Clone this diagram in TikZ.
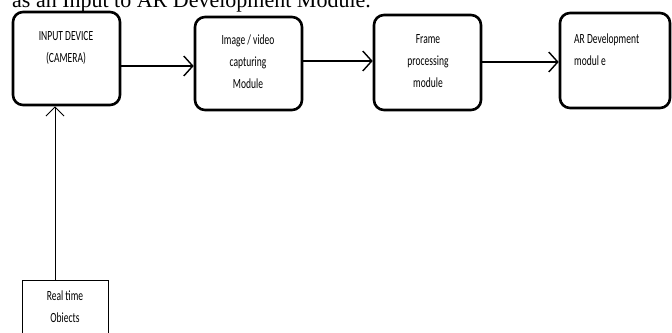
\documentclass[tikz,border=0pt]{standalone}
\usepackage{fontspec}
\setmainfont{Liberation Serif}
\newfontfamily\boxfont{Carlito}
\usetikzlibrary{arrows.meta}
\newcommand{\sq}[1]{\scalebox{0.68}[1]{#1}}
\tikzset{
  blk/.style={draw, line width=2.6pt, rounded corners=10pt, inner sep=0pt},
  lbl/.style={font=\boxfont\fontsize{14}{22}\selectfont, align=center, inner sep=0pt, anchor=north},
  flow/.style={line width=1.6pt, -{Straight Barb[length=9pt,width=20pt,line width=1.4pt]}},
  thinflow/.style={line width=0.9pt, -{Straight Barb[length=9pt,width=18pt,line width=1pt]}},
  plain/.style={draw, line width=0.9pt, inner sep=0pt}
}
\begin{document}
\begin{tikzpicture}[x=1pt,y=-1pt]
\useasboundingbox (0,0) rectangle (672,332);
\clip (0,0) rectangle (672,332);
\fill[white] (0,0) rectangle (672,332);
% cut-off caption line
\node[anchor=base west, inner sep=0pt, font=\fontsize{22}{26}\selectfont] (cap) at (12,7) {as an Input to AR Development Module.};
% boxes
\node[blk, minimum width=107pt, minimum height=93pt] (b1) at (66.5,58.5) {};
\node[blk, minimum width=107pt, minimum height=93pt] (b2) at (248.5,63.5) {};
\node[blk, minimum width=107pt, minimum height=95pt] (b3) at (427.5,62.5) {};
\node[blk, minimum width=110pt, minimum height=95pt] (b4) at (615,60.5) {};
\node[plain, minimum width=86pt, minimum height=70pt, anchor=north] (b5) at (65,280) {};
% texts
\node[lbl] (t1) at (66,31) {\sq{INPUT DEVICE}\\\sq{(CAMERA)}};
\node[lbl] (t2) at (248,35) {\sq{Image / video}\\\sq{capturing}\\\sq{Module}};
\node[lbl] (t3) at (428,34) {\sq{Frame}\\\sq{processing}\\\sq{module}};
\node[lbl, align=left, anchor=north west] (t4) at (574,34) {\sq{AR Development}\\\sq{modul e}};
\node[lbl] (t5) at (65,291) {\sq{Real time}\\\sq{Obiects}};
% connectors
\draw[flow] (b1.east |- 0,66) -- (b2.west |- 0,66);
\draw[flow] (b2.east |- 0,61) -- (b3.west |- 0,61);
\draw[flow] (b3.east |- 0,62) -- (b4.west |- 0,62);
\draw[thinflow] (b5.north -| 55,0) -- (b1.south -| 55,0);
\end{tikzpicture}
\end{document}
